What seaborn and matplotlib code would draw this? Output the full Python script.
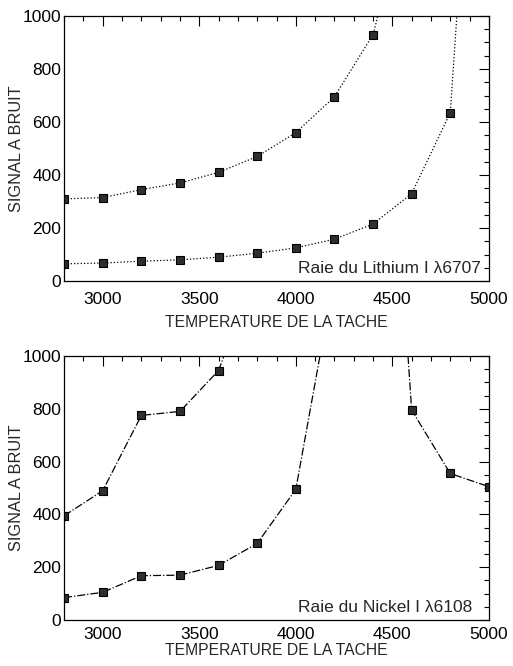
import matplotlib
matplotlib.use("Agg")
import matplotlib.pyplot as plt
import seaborn as sns
import pandas as pd
from matplotlib.ticker import MultipleLocator

# Temperatures (K)
temp = [2800, 3000, 3200, 3400, 3600, 3800, 4000, 4200, 4400, 4600, 4800, 5000]

# Raie du Lithium I 6707 (top panel)
li_haut = [310, 315, 345, 370, 410, 470, 560, 695, 930, 1490, None, None]
li_bas = [65, 68, 75, 80, 90, 105, 125, 158, 215, 330, 635, 2780]

# Raie du Nickel I 6108 (bottom panel)
ni_haut = [395, 490, 775, 790, 945, 1338, None, None, None, None, None, None]
ni_bas = [85, 105, 168, 170, 207, 290, 495, 1303, 2955, 795, 555, 505]

LABEL_Y = "SIGNAL A BRUIT"
LABEL_X = "TEMPERATURE DE LA TACHE"
TITRES = ["Raie du Lithium I λ6707", "Raie du Nickel I λ6108"]

sns.set_theme(style="white")
plt.rcParams["font.family"] = ["Liberation Sans", "DejaVu Sans"]

fig = plt.figure(figsize=(5.13, 6.66), dpi=100)
ax1 = fig.add_axes([0.125, 0.578, 0.828, 0.398])
ax2 = fig.add_axes([0.125, 0.069, 0.828, 0.3965])


def tracer(ax, series, style, titre, pad_x, labelpad_x):
    for serie in series:
        df = pd.DataFrame({"T": temp, "S": serie}).dropna()
        sns.lineplot(data=df, x="T", y="S", ax=ax, color="black",
                     linestyle=style, linewidth=0.9, marker="s",
                     markersize=5.5, markerfacecolor="#2e2e2e",
                     markeredgecolor="black", markeredgewidth=0.8)
    ax.set_xlim(2800, 5000)
    ax.set_ylim(0, 1000)
    ax.xaxis.set_major_locator(MultipleLocator(500))
    ax.xaxis.set_minor_locator(MultipleLocator(100))
    ax.yaxis.set_major_locator(MultipleLocator(200))
    ax.yaxis.set_minor_locator(MultipleLocator(50))
    ax.tick_params(which="both", direction="in", top=True, right=True,
                   colors="black", labelsize=12.5)
    ax.tick_params(which="major", length=7, width=0.8)
    ax.tick_params(which="minor", length=3.5, width=0.8)
    ax.tick_params(axis="x", pad=pad_x)
    ax.tick_params(axis="y", pad=2)
    for sp in ax.spines.values():
        sp.set_color("black")
        sp.set_linewidth(0.9)
    ax.set_ylabel(LABEL_Y, fontsize=11.8)
    ax.yaxis.set_label_coords(-0.094, 0.5)
    ax.set_xlabel(LABEL_X, fontsize=11.3, labelpad=labelpad_x)
    ax.text(4010, 30, titre, fontsize=12.5, ha="left", va="baseline",
            clip_on=True)


tracer(ax1, [li_haut, li_bas], ":", TITRES[0], 8, 6)
tracer(ax2, [ni_haut, ni_bas], "-.", TITRES[1], 5, 0.5)

fig.savefig("out.png", dpi=100, facecolor="white")
